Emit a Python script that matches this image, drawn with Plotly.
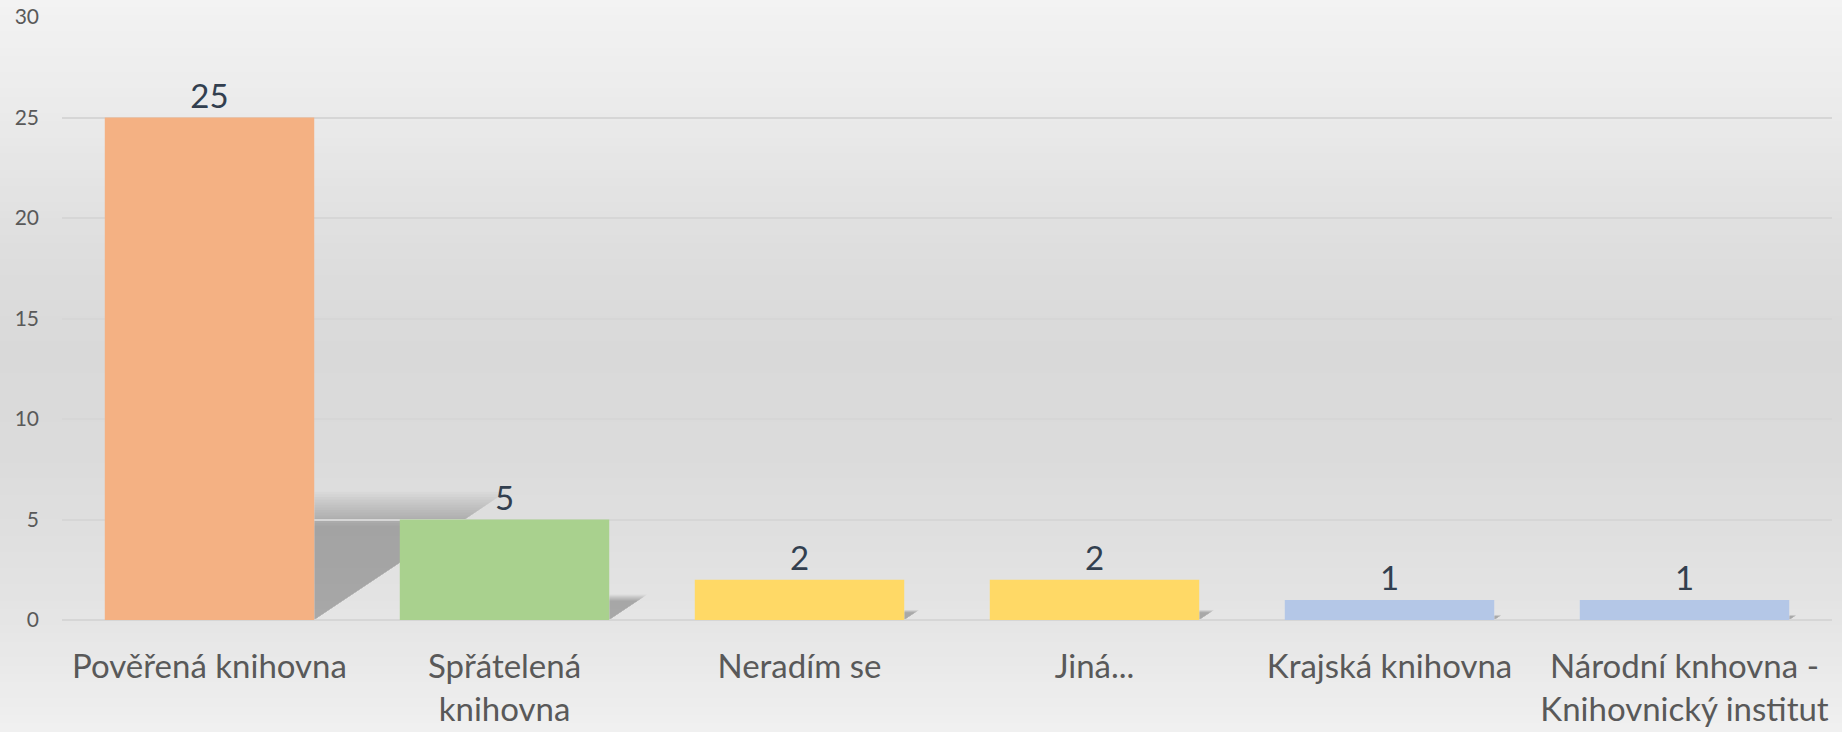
import plotly.graph_objects as go

# Data
categories = [
    "Pověřená knihovna",
    "Spřátelená<br>knihovna",
    "Neradím se",
    "Jiná...",
    "Krajská knihovna",
    "Národní knhovna -<br>Knihovnický institut",
]
values = [25, 5, 2, 2, 1, 1]
bar_colors = ["#F4B183", "#A9D18E", "#FFD966", "#FFD966", "#B4C7E7", "#B4C7E7"]
y_ticks = [0, 5, 10, 15, 20, 25, 30]

W, H = 1842, 732
M_L, M_R, M_T, M_B = 62, 10, 17, 112
FONT = "Lato"

fig = go.Figure()
fig.add_trace(go.Bar(
    x=categories, y=values,
    marker=dict(color=bar_colors, line=dict(width=0)),
    text=values, textposition="outside", cliponaxis=False,
    textfont=dict(family=FONT, size=33, color="#323F4F"),
    width=0.71, hoverinfo="skip",
))

# soft gray background gradient (top light, middle darker, bottom light)
stops = [(0, 243), (120, 234), (250, 222), (350, 217), (450, 219),
         (550, 224), (620, 229), (732, 240)]
shapes = []
n = 90
plot_h = H - M_T - M_B
to_paper = lambda yp: (H - M_B - yp) / plot_h
for k in range(n):
    y0 = H * k / n
    y1 = H * (k + 1) / n
    ym = (y0 + y1) / 2
    for (a, ga), (b, gb) in zip(stops, stops[1:]):
        if a <= ym <= b:
            g = round(ga + (gb - ga) * (ym - a) / (b - a))
            break
    shapes.append(dict(
        type="rect", xref="paper", yref="paper", layer="below",
        x0=-M_L / (W - M_L - M_R) - 0.01, x1=1 + M_R / (W - M_L - M_R) + 0.01,
        y0=to_paper(y1 + 1), y1=to_paper(y0 - 1),
        fillcolor=f"rgb({g},{g},{g})", line=dict(width=0),
    ))

# blurred perspective drop shadows to the right of each bar
half = 0.355
for i, v in enumerate(values):
    xr = i + half
    for j in range(14):
        scale = 0.8 + 0.022 * j
        h = 0.235 * v * scale
        d = 0.024 * v * scale
        shapes.append(dict(
            type="path", xref="x", yref="y", layer="below",
            path=f"M {xr} 0 L {xr} {h} L {xr + d} {h} Z",
            fillcolor="rgba(0,0,0,0.018)", line=dict(width=0),
        ))

fig.update_layout(
    width=W, height=H,
    margin=dict(l=M_L, r=M_R, t=M_T, b=M_B, autoexpand=False),
    paper_bgcolor="#EBEBEB",
    plot_bgcolor="rgba(0,0,0,0)",
    showlegend=False,
    bargap=0.29,
    shapes=shapes,
    font=dict(family=FONT, color="#595959"),
    xaxis=dict(
        showgrid=False, zeroline=False, showline=False, ticks="",
        tickfont=dict(family=FONT, size=33, color="#595959"),
        ticklabelstandoff=24, fixedrange=True, automargin=False,
    ),
    yaxis=dict(
        range=[0, 30], tickvals=y_ticks, showgrid=True,
        gridcolor="#D6D6D6", gridwidth=2,
        zeroline=True, zerolinecolor="#D6D6D6", zerolinewidth=2,
        showline=False, ticks="",
        tickfont=dict(family=FONT, size=21, color="#595959"),
        ticklabelstandoff=22, fixedrange=True, automargin=False,
    ),
)

fig.write_html(
    "out.html",
    config={"displayModeBar": False},
    post_script="document.body.style.margin='0';",
)
